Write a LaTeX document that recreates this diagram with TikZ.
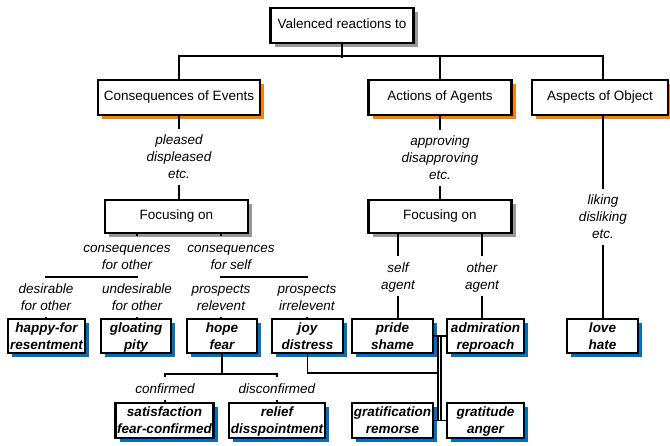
\documentclass[tikz,border=0pt]{standalone}
\usepackage{fontspec}
\setmainfont{Liberation Sans}
\usepackage{tikz}
\usetikzlibrary{shadows,calc}
\definecolor{shorange}{HTML}{FF8000}
\definecolor{shblue}{HTML}{0070C0}
\definecolor{shgray}{HTML}{999999}
\newcommand\tstrut{\rule{0pt}{12pt}}
\newcommand\bstrut{\rule[-3pt]{0pt}{3pt}}

\begin{document}
\begin{tikzpicture}[x=1pt,y=-1pt,line width=1.9pt,
  every node/.style={font=\fontsize{13.5}{17}\selectfont},
  box/.style={draw,line width=2.3pt,fill=white,inner sep=0pt,align=center,minimum height=35pt},
  graybox/.style={box,execute at begin node=\strut,
    drop shadow={opacity=1,fill=shgray,shadow xshift=4pt,shadow yshift=-4pt}},
  orangebox/.style={box,execute at begin node=\strut,
    drop shadow={opacity=1,fill=shorange,shadow xshift=4pt,shadow yshift=-4pt}},
  leaf/.style={box,font=\fontsize{13.5}{17}\selectfont\bfseries\itshape,
    drop shadow={opacity=1,fill=shblue,shadow xshift=4pt,shadow yshift=-4pt}},
  lbl/.style={inner xsep=0pt,inner ysep=3pt,align=center,font=\fontsize{13.5}{17}\selectfont\itshape}]
\useasboundingbox[fill=white] (0,0) rectangle (670,445);

\node[graybox,minimum width=143pt] (top) at (342,25.5) {Valenced reactions to};
\node[orangebox,minimum width=162pt] (coe) at (179,97.5) {Consequences of Events};
\node[orangebox,minimum width=143pt] (aoa) at (440,97.5) {Actions of Agents};
\node[orangebox,minimum width=136pt] (aoo) at (600,97.5) {Aspects of Object};
\node[graybox,minimum width=143pt,minimum height=33pt] (focL) at (176.5,216.5) {Focusing on};
\node[graybox,minimum width=143pt,minimum height=33pt] (focR) at (440,216.5) {Focusing on};

\node[leaf,minimum width=77pt,minimum height=34pt] (happy) at (46.5,336) {\tstrut happy-for\\resentment\bstrut};
\node[leaf,minimum width=70pt,minimum height=34pt] (gloat) at (136,336) {\tstrut gloating\\pity\bstrut};
\node[leaf,minimum width=70pt,minimum height=34pt] (hope) at (222,336) {\tstrut hope\\fear\bstrut};
\node[leaf,minimum width=71pt,minimum height=34pt] (joy) at (307.5,336) {\tstrut joy\\distress\bstrut};
\node[leaf,minimum width=81pt,minimum height=34pt] (pride) at (392.5,336) {\tstrut pride\\shame\bstrut};
\node[leaf,minimum width=77pt,minimum height=34pt] (admir) at (485.5,336) {\tstrut admiration\\reproach\bstrut};
\node[leaf,minimum width=71pt,minimum height=34pt] (love) at (602.5,336) {\tstrut love\\hate\bstrut};
\node[leaf,minimum width=98pt] (sat) at (164.5,420.5) {\tstrut satisfaction\\fear-confirmed\bstrut};
\node[leaf,minimum width=96pt] (relief) at (277,420.5) {\tstrut relief\\disspointment\bstrut};
\node[leaf,minimum width=81pt] (grat) at (392.5,420.5) {\tstrut gratification\\remorse\bstrut};
\node[leaf,minimum width=77pt] (gratit) at (485.5,420.5) {\tstrut gratitude\\anger\bstrut};

\node[lbl] (lPleased) at (179,157) {\tstrut pleased\\displeased\\etc.\bstrut};
\node[lbl] (lApprov) at (440,158) {\tstrut approving\\disapproving\\etc.\bstrut};
\node[lbl] (lLiking) at (603,217) {\tstrut liking\\disliking\\etc.\bstrut};
\node[lbl] (cfo) at (127,256) {\tstrut consequences\\for other\bstrut};
\node[lbl] (cfs) at (231,256) {\tstrut consequences\\for self\bstrut};
\node[lbl] (dfo) at (46,297) {\tstrut desirable\\for other\bstrut};
\node[lbl] (udo) at (137,297.5) {\tstrut undesirable\\for other\bstrut};
\node[lbl] (prel) at (221,297.5) {\tstrut prospects\\relevent\bstrut};
\node[lbl] (pirr) at (307,297.5) {\tstrut prospects\\irrelevent\bstrut};
\node[lbl] (sa) at (398,276) {\tstrut self\\agent\bstrut};
\node[lbl] (oa) at (482,276) {\tstrut other\\agent\bstrut};
\node[lbl] (conf) at (165,388.5) {\tstrut confirmed\bstrut};
\node[lbl] (disc) at (277,388.5) {\tstrut disconfirmed\bstrut};

\coordinate (jOth) at (137,277);
\coordinate (jSelf) at (221,277);
\coordinate (jBus) at (438,373);

\draw (top.south) -- ++(0,14);
\draw (coe.north) -- ++(0,-23) -| (aoo.north -| lLiking);
\draw (aoa.north) -- ++(0,-23);

\draw (coe.south) -- (lPleased.north);
\draw (lPleased.south) -- (lPleased.south |- focL.north);
\draw (aoa.south -| lApprov) -- (lApprov.north);
\draw (lApprov.south) -- (lApprov.south |- focR.north);
\draw (aoo.south -| lLiking) -- (lLiking.north);
\draw (lLiking.south) -- (lLiking.south |- love.north);

\draw (focL.south -| jOth) -- (cfo.north -| jOth);
\draw (cfo.south -| jOth) -- (jOth);
\draw (dfo.north) |- (jOth) -- (udo.north);
\draw (dfo.south) -- (dfo.south |- happy.north);
\draw (udo.south) -- (udo.south |- gloat.north);

\draw (focL.south -| jSelf) -- (cfs.north -| jSelf);
\draw (cfs.south -| jSelf) -- (jSelf);
\draw (prel.north) -- (jSelf) -| (pirr.north);
\draw (prel.south) -- (prel.south |- hope.north);
\draw (pirr.south) -- (pirr.south |- joy.north);

\draw (hope.south) -- ++(0,20) coordinate (jHope);
\draw (conf.north) |- (jHope) -| (disc.north);
\draw (conf.south) -- (conf.south |- sat.north);
\draw (disc.south) -- (disc.south |- relief.north);

\draw (focR.south -| sa) -- (sa.north);
\draw (sa.south) -- (sa.south |- pride.north);
\draw (focR.south -| oa) -- (oa.north);
\draw (oa.south) -- (oa.south |- admir.north);

\draw (joy.south) |- (jBus);
\draw (pride.east) -- (admir.west);
\draw (grat.east) -- (gratit.west);
\draw (pride.east -| jBus) -- (grat.east -| jBus);
\draw ([xshift=3pt]pride.east -| jBus) -- ([xshift=3pt]grat.east -| jBus);
\end{tikzpicture}
\end{document}
